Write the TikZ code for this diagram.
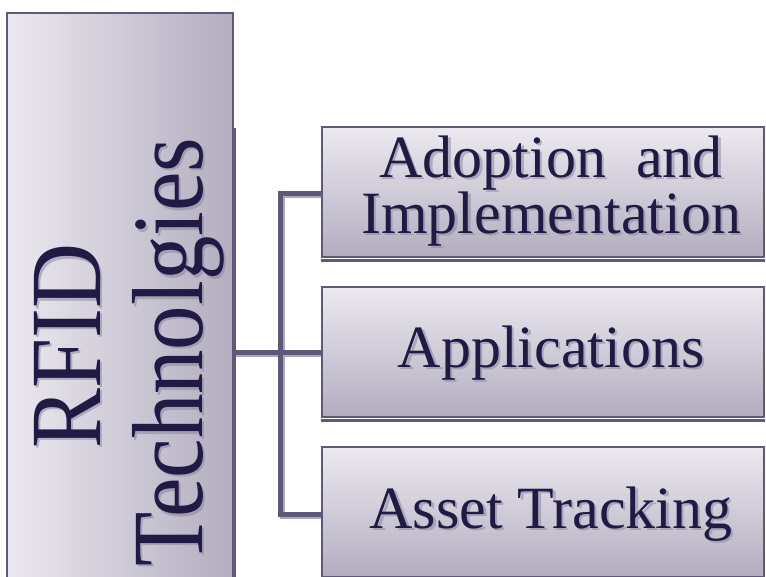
\documentclass[tikz,border=0pt]{standalone}
\usepackage{fontspec}
\setmainfont{Liberation Serif}
\definecolor{edge}{HTML}{5F5879}
\definecolor{ink}{HTML}{201B44}
\definecolor{hi}{HTML}{ECE9F0}
\definecolor{lo}{HTML}{B3ADBF}
\definecolor{shd}{HTML}{8C86A2}
\definecolor{lshd}{HTML}{ABA6BB}
\begin{document}
\begin{tikzpicture}[x=1pt,y=-1pt,
  boxr/.style={draw=edge, line width=2.5pt, top color=hi, bottom color=lo,
    minimum width=442pt, minimum height=130pt, inner sep=0pt},
  boxl/.style={draw=edge, line width=2.5pt, left color=hi, right color=lo,
    minimum width=226pt, minimum height=580pt, inner sep=0pt},
  txt/.style={font=\fontsize{60}{56}\selectfont, text=ink, inner sep=0pt, anchor=base},
  txtsh/.style={txt, text=shd, opacity=.55},
  bigtxt/.style={font=\fontsize{101}{100}\selectfont, text=ink, inner sep=0pt, anchor=base, rotate=90},
  bigsh/.style={bigtxt, text=shd, opacity=.55},
  conn/.style={draw=edge, line width=5pt, line join=miter},
  connsh/.style={draw=lshd, line width=5pt, line join=miter}]
\useasboundingbox (0,0) rectangle (766,576);

\path (120,303) coordinate (Lc);
\path (543,192) coordinate (B1c);
\path (543,352) coordinate (B2c);
\path (543,512) coordinate (B3c);
\coordinate (J) at (280,352);

% connector shadows and connectors
\draw[connsh] (236,354) -- (324,354);
\draw[connsh] (324,195) -- (282,195) -- (282,516) -- (324,516);
\draw[conn] (234,352) -- (J) -- (322,352);
\draw[conn] (322,193) -| (J) |- (322,514);

% left box
\node[boxl] (L) at (Lc) {};
\draw[edge, line width=2pt] ([xshift=1pt]L.north east |- 0,128) -- ([xshift=1pt]L.south east);

% right boxes with bottom shadow edge
\foreach \n/\p in {B1/B1c, B2/B2c, B3/B3c}{
  \node[boxr] (\n) at (\p) {};
  \draw[edge, line width=3pt] ([yshift=-2pt]\n.south west) -- ([yshift=-2pt]\n.south east);
}

% left text (soft shadow, then text)
\node[bigsh] (t1s) at (102.5,348.5) {\scalebox{0.89}[1]{RFID}};
\node[bigsh] (t2s) at (204.5,354.5) {\scalebox{0.88}[1]{Technolgies}};
\node[bigtxt] (t1) at (100,346) {\scalebox{0.89}[1]{RFID}};
\node[bigtxt] (t2) at (202,352) {\scalebox{0.88}[1]{Technolgies}};

% right texts (soft shadow, then text)
\node[txtsh] (a1s) at (553.5,179.5) {Adoption\ \ and};
\node[txtsh] (a2s) at (553.5,235.5) {Implementation};
\node[txtsh] (a3s) at (553.5,369.5) {Applications};
\node[txtsh] (a4s) at (553.5,530.5) {Asset Tracking};
\node[txt] (a1) at (551,177) {Adoption\ \ and};
\node[txt] (a2) at (551,233) {Implementation};
\node[txt] (a3) at (551,367) {Applications};
\node[txt] (a4) at (551,528) {Asset Tracking};
\end{tikzpicture}
\end{document}
